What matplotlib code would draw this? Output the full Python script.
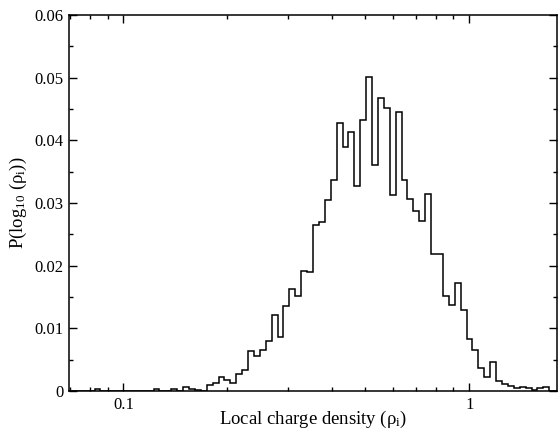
import numpy as np
import matplotlib
matplotlib.use('Agg')
import matplotlib.pyplot as plt
from matplotlib.ticker import FixedLocator, NullFormatter, LogLocator

# histogram bins are uniform in log10(rho)
log_start = -1.1687   # left edge of the first bin
log_width = 0.01707   # bin width in decades

# P(log10(rho_i)) per bin
prob = [
    0, 0, 0, 0, 0, 0.0003, 0, 0, 0, 0, 0, 0, 0, 0, 0, 0.0003, 0, 0,
    0.0003, 0, 0.0006, 0.0003, 0.0002, 0,
    0.0010, 0.0013, 0.0023, 0.0017, 0.0013, 0.0027, 0.0034, 0.0064,
    0.0056, 0.0066, 0.0080, 0.0122, 0.0086, 0.0136, 0.0162, 0.0152,
    0.0191, 0.0190, 0.0265, 0.0270, 0.0304, 0.0337, 0.0427, 0.0389,
    0.0413, 0.0327, 0.0432, 0.0501, 0.0360, 0.0468, 0.0452, 0.0313,
    0.0445, 0.0337, 0.0307, 0.0287, 0.0271, 0.0314, 0.0219, 0.0219,
    0.0152, 0.0138, 0.0172, 0.0129, 0.0083, 0.0066, 0.0036, 0.0023,
    0.0047, 0.0016, 0.0011,
    0.0008, 0.0004, 0.0007, 0.0004, 0.0002, 0.0004, 0.0007, 0, 0,
]

x_ticks = [0.1, 1]
x_tick_labels = ['0.1', '1']
y_ticks = [0, 0.01, 0.02, 0.03, 0.04, 0.05, 0.06]
y_tick_labels = ['0', '0.01', '0.02', '0.03', '0.04', '0.05', '0.06']


def main():
    plt.rcParams['font.family'] = 'Liberation Serif'
    plt.rcParams['mathtext.fontset'] = 'custom'
    plt.rcParams['mathtext.rm'] = 'Liberation Serif'
    plt.rcParams['mathtext.it'] = 'Liberation Serif:italic'

    fig = plt.figure(figsize=(5.58, 4.29), dpi=100)
    ax = fig.add_axes([0.1237, 0.0886, 0.8745, 0.8764])

    edges = 10 ** (log_start + log_width * np.arange(len(prob) + 1))
    ax.stairs(prob, edges, color='black', linewidth=1.1)

    ax.set_xscale('log')
    ax.set_xlim(10 ** -1.157, 10 ** 0.2535)
    ax.set_ylim(0, 0.06)

    ax.xaxis.set_major_locator(FixedLocator(x_ticks))
    ax.set_xticklabels(x_tick_labels)
    ax.xaxis.set_minor_locator(LogLocator(base=10, subs=np.arange(2, 10)))
    ax.xaxis.set_minor_formatter(NullFormatter())
    ax.set_yticks(y_ticks)
    ax.set_yticklabels(y_tick_labels)
    ax.set_yticks(np.arange(0.005, 0.06, 0.01), minor=True)

    ax.tick_params(which='both', direction='in', top=True, right=True,
                   labelsize=12, width=1, pad=4)
    ax.tick_params(which='major', length=6)
    ax.tick_params(which='minor', length=3)
    for sp in ax.spines.values():
        sp.set_linewidth(1.1)

    # tight padding keeps the descenders inside the canvas
    ax.set_xlabel('Local charge density (ρ$_\\mathrm{i}$)', fontsize=13.5,
                  labelpad=-3)
    ax.set_ylabel('P(log$_{10}$ (ρ$_\\mathrm{i}$))', fontsize=13.5,
                  labelpad=4)

    fig.savefig('out.png', dpi=100)


if __name__ == "__main__":
    main()
